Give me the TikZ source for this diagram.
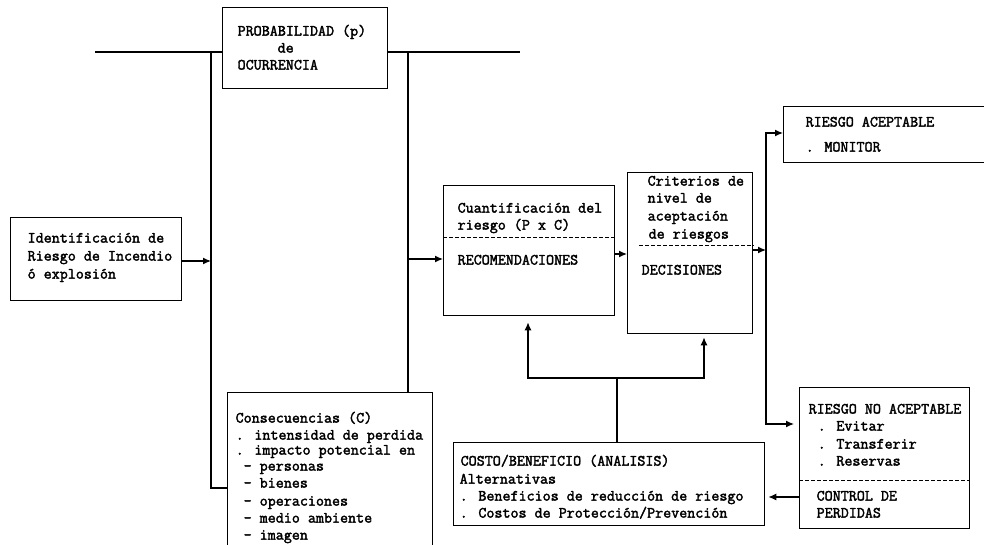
\documentclass[tikz,border=0pt]{standalone}
\usepackage{fontspec}
\newfontfamily\tw{Latin Modern Mono}[FakeBold=2.2]
\usetikzlibrary{arrows.meta}
\begin{document}
\begin{tikzpicture}[x=1pt,y=-1pt,
  line width=1.3pt,
  box/.style={draw, line width=1.3pt, rectangle, inner sep=0pt, anchor=north west},
  txt/.style={anchor=west, inner sep=0pt, font=\tw\fontsize{15.6}{17}\selectfont, text height=0.62em, text depth=0.1em},
  arr/.style={-{Latex[length=8pt,width=7pt]}},
  sep/.style={line width=1pt, dash pattern=on 4pt off 2pt},
]
\useasboundingbox (0,0) rectangle (984,545);
\clip (0,0) rectangle (984,545);

% boxes
\node[box, minimum width=171pt, minimum height=83pt] (ident) at (10,217) {};
\node[box, minimum width=165pt, minimum height=81pt] (prob) at (222,7) {};
\node[box, minimum width=205pt, minimum height=170pt] (cons) at (227,392) {};
\node[box, minimum width=171pt, minimum height=130pt] (cuant) at (443,185) {};
\node[box, minimum width=125pt, minimum height=161pt] (crit) at (627,172) {};
\node[box, minimum width=220pt, minimum height=56pt] (acep) at (783,106) {};
\node[box, minimum width=170pt, minimum height=141pt] (noacep) at (799,387) {};
\node[box, minimum width=311pt, minimum height=83pt] (costo) at (453,442) {};

% coordinates
\coordinate (tl) at (95,52);
\coordinate (tr) at (520,52);
\coordinate (vl) at (211,52);
\coordinate (vr) at (408,52);
\coordinate (vlb) at (211,488);
\coordinate (dv) at (766,250);
\coordinate (dvt) at (766,133);
\coordinate (dvb) at (766,424);
\coordinate (hb) at (617,378);

% top line and verticals
\draw (tl) -- (prob.west |- tl);
\draw (prob.east |- tr) -- (tr);
\draw (vl) -- (vlb) -- (cons.west |- vlb);
\draw (vr) -- (cons.north -| vr);

% arrows
\draw[arr] (ident.east |- 0,261) -- (vl |- 0,261);
\draw[arr] (vr |- 0,259) -- (cuant.west |- 0,259);
\draw[arr] (cuant.east |- 0,254) -- (crit.west |- 0,254);
\draw[arr] (crit.east |- dv) -- (dv);
\draw[arr] (dv) -- (dvt) -- (acep.west |- dvt);
\draw[arr, shorten >=5pt] (dv) -- (dvb) -- (noacep.west |- dvb);
\draw[arr, shorten >=3pt] (noacep.west |- 0,497) -- (costo.east |- 0,497);
\draw (costo.north -| hb) -- (hb);
\draw[arr, shorten >=6pt] (hb) -| (cuant.south -| 528,0);
\draw[arr, shorten >=3pt] (hb) -| (crit.south -| 704,0);

% separators
\draw[sep] (cuant.west |- 0,238) -- (cuant.east |- 0,238);
\draw[sep] (639,245) -- (crit.east |- 0,245);
\draw[sep] (noacep.west |- 0,480) -- (noacep.east |- 0,480);

% texts
\node[txt] (i1) at (27,240) {Identificación de};
\node[txt] (i2) at (27,258) {Riesgo de Incendio};
\node[txt] (i3) at (27,276) {ó explosión};

\node[txt] (p1) at (237,33) {PROBABILIDAD (p)};
\node[txt] (p2) at (277,50) {de};
\node[txt] (p3) at (237,67) {OCURRENCIA};

\node[txt] (c1) at (235,420) {Consecuencias (C)};
\node[txt] (c2) at (235,437) {. intensidad de perdida};
\node[txt] (c3) at (235,452) {. impacto potencial en};
\node[txt] (c4) at (243,468) {- personas};
\node[txt] (c5) at (243,485) {- bienes};
\node[txt] (c6) at (243,503) {- operaciones};
\node[txt] (c7) at (243,520) {- medio ambiente};
\node[txt] (c8) at (243,537) {- imagen};

\node[txt] (q1) at (457,210) {Cuantificación del};
\node[txt] (q2) at (457,227) {riesgo (P x C)};
\node[txt] (q3) at (457,262) {RECOMENDACIONES};

\node[txt] (k1) at (647,183) {Criterios de};
\node[txt] (k2) at (647,200) {nivel de};
\node[txt] (k3) at (647,218) {aceptación};
\node[txt] (k4) at (648,236) {de riesgos};
\node[txt] (k5) at (641,272) {DECISIONES};

\node[txt] (a1) at (805,124) {RIESGO ACEPTABLE};
\node[txt] (a2) at (805,149) {. MONITOR};

\node[txt] (n1) at (808,411) {RIESGO NO ACEPTABLE};
\node[txt] (n2) at (817,428) {. Evitar};
\node[txt] (n3) at (817,446) {. Transferir};
\node[txt] (n4) at (817,463) {. Reservas};
\node[txt] (n5) at (816,498) {CONTROL DE};
\node[txt] (n6) at (816,515) {PERDIDAS};

\node[txt] (s1) at (460,463) {COSTO/BENEFICIO (ANALISIS)};
\node[txt] (s2) at (459,481) {Alternativas};
\node[txt] (s3) at (459,498) {. Beneficios de reducción de riesgo};
\node[txt] (s4) at (459,515) {. Costos de Protección/Prevención};
\end{tikzpicture}
\end{document}
